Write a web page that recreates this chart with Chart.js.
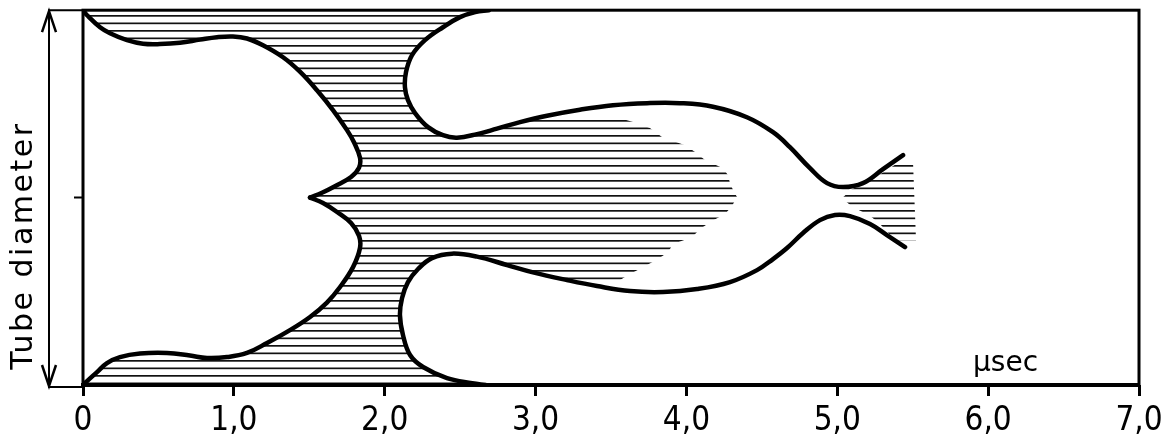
<!DOCTYPE html>
<html>
<head>
<meta charset="utf-8">
<script src="https://cdn.jsdelivr.net/npm/chart.js@4/dist/chart.umd.min.js"></script>
<style>
  html, body { margin: 0; background: #fff; }
  #wrap { width: 1170px; height: 435px; position: relative; }
</style>
</head>
<body>
<div id="wrap"><canvas id="chart"></canvas></div>
<script>
// time axis labels, printed with a decimal comma
const timeTicks = ["0", "1,0", "2,0", "3,0", "4,0", "5,0", "6,0", "7,0"];

// boundaries: [time (µs), position across tube, -1 wall .. 0 axis .. 1 wall]
const innerUpper = [
  [0, 1.0], [0.027, 0.973], [0.113, 0.909], [0.179, 0.877], [0.292, 0.840], [0.398, 0.821],
  [0.510, 0.819], [0.643, 0.826], [0.776, 0.843], [0.888, 0.856], [0.994, 0.860], [1.087, 0.849],
  [1.193, 0.813], [1.326, 0.749], [1.438, 0.672], [1.551, 0.573], [1.657, 0.467], [1.750, 0.360],
  [1.797, 0.294], [1.836, 0.213], [1.830, 0.160], [1.777, 0.110], [1.670, 0.061], [1.584, 0.026],
  [1.505, 0]
];
const innerLower = [
  [1.505, 0], [1.591, -0.029], [1.684, -0.077], [1.777, -0.136], [1.830, -0.205], [1.836, -0.269],
  [1.790, -0.371], [1.704, -0.477], [1.617, -0.560], [1.505, -0.637], [1.372, -0.707], [1.220, -0.776],
  [1.087, -0.829], [0.955, -0.851], [0.822, -0.856], [0.709, -0.843], [0.557, -0.829], [0.378, -0.832],
  [0.245, -0.851], [0.159, -0.883], [0.093, -0.931], [0.027, -0.979], [0, -1.0]
];
const outerUpper = [
  [2.690, 1.0], [2.600, 0.990], [2.499, 0.963], [2.386, 0.909], [2.267, 0.840], [2.181, 0.760],
  [2.141, 0.669], [2.134, 0.589], [2.154, 0.520], [2.201, 0.451], [2.287, 0.376], [2.386, 0.333],
  [2.479, 0.320], [2.612, 0.339], [2.744, 0.368], [2.897, 0.403], [3.076, 0.437], [3.294, 0.469],
  [3.513, 0.493], [3.739, 0.504], [3.957, 0.504], [4.176, 0.485], [4.401, 0.429], [4.574, 0.349],
  [4.686, 0.269], [4.819, 0.157], [4.932, 0.077], [5.038, 0.056], [5.170, 0.077], [5.303, 0.152],
  [5.436, 0.227]
];
const outerLower = [
  [2.670, -1.0], [2.580, -0.990], [2.413, -0.963], [2.254, -0.904], [2.168, -0.840], [2.121, -0.733],
  [2.101, -0.627], [2.115, -0.536], [2.154, -0.451], [2.221, -0.381], [2.313, -0.323], [2.446, -0.299],
  [2.612, -0.315], [2.811, -0.360], [2.983, -0.399], [3.208, -0.440], [3.407, -0.472], [3.626, -0.499],
  [3.845, -0.504], [4.070, -0.488], [4.289, -0.451], [4.468, -0.387], [4.574, -0.328], [4.667, -0.269],
  [4.773, -0.189], [4.885, -0.120], [4.985, -0.093], [5.084, -0.099], [5.217, -0.141], [5.329, -0.200],
  [5.449, -0.264]
];
// where the hatching stops inside the big lobe (top to bottom)
const plumeEdge = [
  [3.493, 0.440], [3.646, 0.403], [3.758, 0.371], [3.838, 0.323], [3.991, 0.280], [4.057, 0.243],
  [4.123, 0.200], [4.242, 0.157], [4.275, 0.120], [4.289, 0.077], [4.309, 0.040], [4.335, 0.003],
  [4.302, -0.045], [4.256, -0.088], [4.169, -0.125], [4.090, -0.168], [4.037, -0.211], [3.911, -0.248],
  [3.878, -0.291], [3.811, -0.328], [3.712, -0.371], [3.613, -0.413], [3.540, -0.451]
];
// small hatched patch at the far tip
const tipHatch = [
  [5.031, -0.003], [5.097, 0.045], [5.203, 0.083], [5.316, 0.141], [5.409, 0.189], [5.502, 0.189],
  [5.522, -0.227], [5.376, -0.227], [5.329, -0.179], [5.276, -0.136], [5.210, -0.093], [5.104, -0.051]
];

const canvas = document.getElementById("chart");
const ctx = canvas.getContext("2d");

// horizontal line hatching
function makeHatch() {
  const tile = document.createElement("canvas");
  tile.width = 8;
  tile.height = 15;
  const g = tile.getContext("2d");
  g.fillStyle = "#111";
  g.fillRect(0, 0, 8, 1.7);
  g.fillRect(0, 7.5, 8, 1.7);
  return ctx.createPattern(tile, "repeat");
}
const hatch = makeHatch();

const toPoints = (arr) => arr.map(([x, y]) => ({ x, y }));

function curve(arr) {
  return {
    data: toPoints(arr),
    borderColor: "#000",
    borderWidth: 4.5,
    borderCapStyle: "round",
    borderJoinStyle: "round",
    pointRadius: 0,
    tension: 0.4,
    fill: false,
  };
}

// closed hatched area; indexAxis y keeps the filler from clipping the shape to its first/last x
function hatchArea(arr) {
  return {
    data: toPoints(arr),
    indexAxis: "y",
    borderColor: "transparent",
    borderWidth: 0,
    backgroundColor: hatch,
    pointRadius: 0,
    tension: 0,
    fill: "shape",
  };
}

const mainArea = [
  ...outerUpper.slice(0, 17),
  ...plumeEdge,
  ...outerLower.slice(0, 17).reverse(),
  ...innerLower.slice().reverse(),
  ...innerUpper.slice().reverse(),
];

const FONT_TEXT = "'DejaVu Sans', sans-serif";
const FONT_NUM = "'Liberation Sans Narrow', 'DejaVu Sans Condensed', sans-serif";

const framePlugin = {
  id: "frame",
  afterDatasetsDraw(chart) {
    const { ctx, chartArea: a } = chart;
    ctx.save();
    ctx.strokeStyle = "#000";
    ctx.lineWidth = 3;
    ctx.strokeRect(a.left, a.top, a.right - a.left, a.bottom - a.top);
    ctx.lineWidth = 4;
    ctx.beginPath();
    ctx.moveTo(a.left - 2, a.bottom);
    ctx.lineTo(a.right + 1, a.bottom);
    ctx.stroke();
    ctx.restore();
  },
  afterDraw(chart) {
    const { ctx, chartArea: a, scales } = chart;
    const top = scales.y.getPixelForValue(1);
    const bottom = scales.y.getPixelForValue(-1) + 2;
    const ax = a.left - 34;
    ctx.save();
    ctx.strokeStyle = "#000";
    ctx.lineWidth = 2;
    ctx.beginPath();
    ctx.moveTo(a.left, top);
    ctx.lineTo(ax, top);
    ctx.lineTo(ax, bottom);
    ctx.lineTo(a.left, bottom);
    ctx.stroke();
    // arrow heads
    ctx.lineWidth = 2.5;
    ctx.beginPath();
    ctx.moveTo(ax - 7, top + 22);
    ctx.lineTo(ax, top + 1);
    ctx.lineTo(ax + 7, top + 22);
    ctx.moveTo(ax - 7, bottom - 22);
    ctx.lineTo(ax, bottom - 1);
    ctx.lineTo(ax + 7, bottom - 22);
    ctx.stroke();

    ctx.fillStyle = "#000";
    // axis title, a little below the middle as in the original
    ctx.save();
    ctx.translate(a.left - 59, (top + bottom) / 2 + 47);
    ctx.rotate(-Math.PI / 2);
    ctx.font = "30px " + FONT_TEXT;
    ctx.letterSpacing = "2.5px";
    ctx.textAlign = "center";
    ctx.textBaseline = "middle";
    ctx.fillText("Tube diameter", 0, 0);
    ctx.restore();

    // unit label sitting on the time axis
    ctx.font = "28px " + FONT_TEXT;
    ctx.textAlign = "left";
    ctx.textBaseline = "alphabetic";
    ctx.fillText("\u00b5sec", scales.x.getPixelForValue(5.9), a.bottom - 14);
    ctx.restore();
  },
};

new Chart(ctx, {
  type: "line",
  data: {
    datasets: [
      curve(innerUpper),
      curve(innerLower),
      curve(outerUpper),
      curve(outerLower),
      hatchArea(mainArea),
      hatchArea(tipHatch),
    ],
  },
  options: {
    responsive: true,
    maintainAspectRatio: false,
    animation: false,
    layout: { padding: { top: 10, right: 31, left: 0, bottom: 0 } },
    plugins: {
      legend: { display: false },
      tooltip: { enabled: false },
    },
    scales: {
      x: {
        type: "linear",
        min: 0,
        max: 7,
        afterFit: (axis) => { axis.height = 50; },
        border: { display: false },
        grid: {
          drawOnChartArea: false,
          drawTicks: true,
          tickLength: 11,
          tickWidth: 3,
          tickColor: "#000",
        },
        ticks: {
          stepSize: 1,
          autoSkip: false,
          maxRotation: 0,
          padding: 6,
          color: "#000",
          font: { family: FONT_NUM, size: 33 },
          callback: (value, index) => timeTicks[index],
        },
      },
      y: {
        type: "linear",
        min: -1,
        max: 1,
        afterFit: (axis) => { axis.width = 83; },
        afterBuildTicks: (axis) => { axis.ticks = [{ value: 0 }]; },
        border: { display: false },
        grid: {
          drawOnChartArea: false,
          drawTicks: true,
          tickLength: 9,
          tickWidth: 2,
          tickColor: "#000",
        },
        ticks: { callback: () => "" },
      },
    },
  },
  plugins: [framePlugin],
});
</script>
</body>
</html>
